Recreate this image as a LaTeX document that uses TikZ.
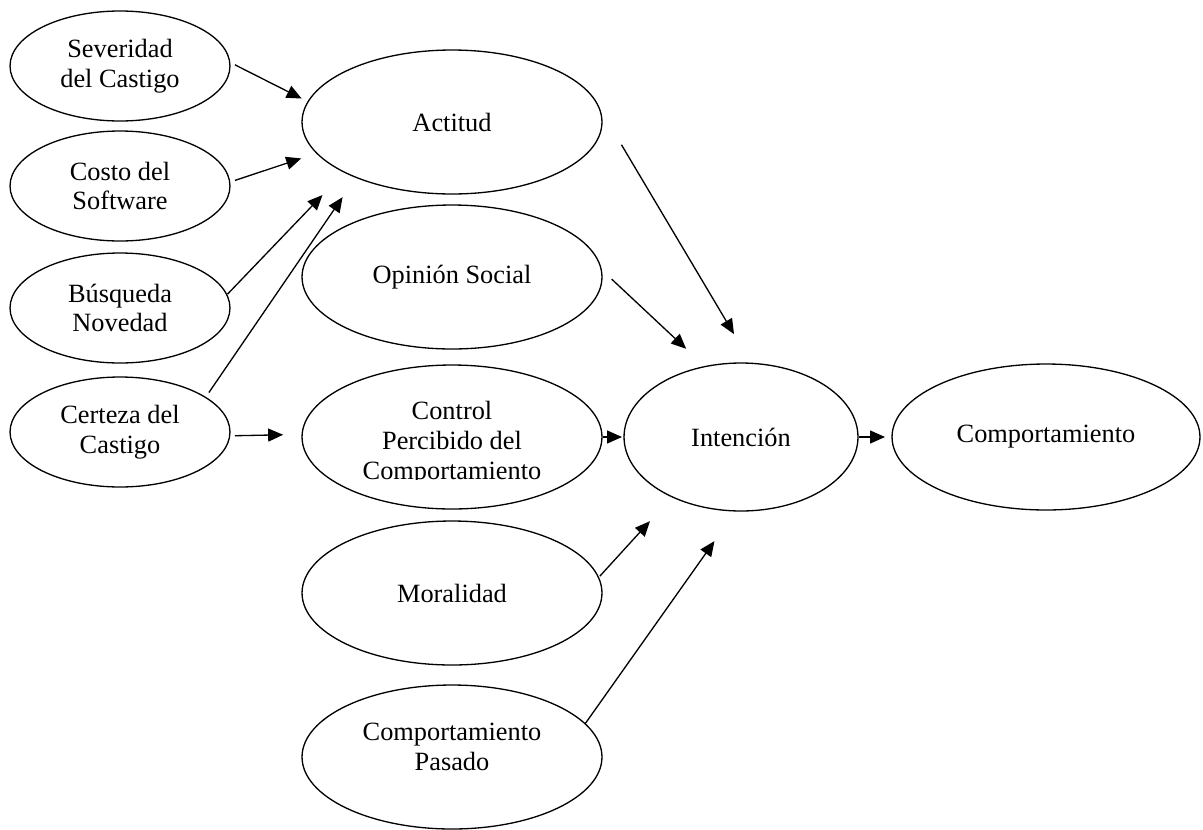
\documentclass[tikz,border=0pt]{standalone}
\usepackage{fontspec}
\setmainfont{Liberation Serif}
\usetikzlibrary{shapes, arrows.meta}

\begin{document}
\begin{tikzpicture}[x=0.02cm, y=-0.02cm,
    oval/.style={draw, ellipse, line width=0.75pt, inner sep=0pt, outer sep=0pt,
      align=center, font=\fontsize{15}{17}\selectfont},
    small/.style={oval, minimum width=4.4cm, minimum height=2.2cm},
    big/.style={oval, minimum width=6cm, minimum height=2.88cm},
    txt/.style={align=center, inner sep=0pt, font=\fontsize{15}{17}\selectfont},
    arr/.style={-{Triangle[length=0.3cm, width=0.26cm]}, line width=0.75pt}]
  \useasboundingbox (0,0) rectangle (1203,829);

  % left column
  \node[small] (sev) at (120,66) {Severidad\\del Castigo};
  \node[small] (cos) at (120,186) {Costo del\\Software};
  \node[small] (bus) at (120,308) {Búsqueda\\Novedad};
  \node[small] (cer) at (120,432) {Certeza del\\Castigo};

  % middle column
  \node[big] (act) at (452,122) {Actitud};
  \node[big] (opi) at (452,277) {Opinión Social};
  \node[big] (con) at (452,437) {};
  \begin{scope}
    \clip (300,365) rectangle (605,479);
    \node[txt] (contxt) at (452,443) {Control\\Percibido del\\Comportamiento};
  \end{scope}
  \node[big] (mor) at (452,593) {Moralidad};
  \node[big] (pas) at (452,757) {};
  \node[txt] (pastxt) at (452,747) {Comportamiento\\Pasado};

  % right side
  \node[oval, minimum width=4.68cm, minimum height=2.96cm] (int) at (741,437) {Intención};
  \node[oval, minimum width=6.16cm, minimum height=2.92cm] (com) at (1046,437) {Comportamiento};

  % arrows into Actitud
  \draw[arr, shorten <=0.116cm, shorten >=0.144cm] (sev.2) -- (act.172);
  \draw[arr, shorten <=0.112cm, shorten >=0.33cm] (cos.2) -- (act.193);
  \draw[arr, shorten <=0.02cm, shorten >=0.634cm] (bus.7) -- (act.205);
  \draw[arr, shorten <=0.118cm, shorten >=0.48cm] (cer.22) -- (act.210);

  % arrows into Control and Intencion
  \draw[arr, shorten <=0.104cm, shorten >=0.38cm] (cer.-2) -- (con.179);
  \draw[arr, shorten <=1cm, shorten >=0.68cm] (act.8) -- (int.82);
  \draw[arr, shorten <=0.29cm, shorten >=0.52cm] (opi.3) -- (int.117);
  \draw[arr, shorten <=0.02cm, shorten >=0.04cm] (con.east) -- (int.west);
  \draw[arr, shorten <=0.04cm, shorten >=0.66cm] (mor.6) -- (int.221);
  \draw[arr, shorten >=0.74cm] (pas.14) -- (int.266);

  % last step
  \draw[arr, shorten <=0.02cm, shorten >=0.14cm] (int.east) -- (com.west);
\end{tikzpicture}
\end{document}
